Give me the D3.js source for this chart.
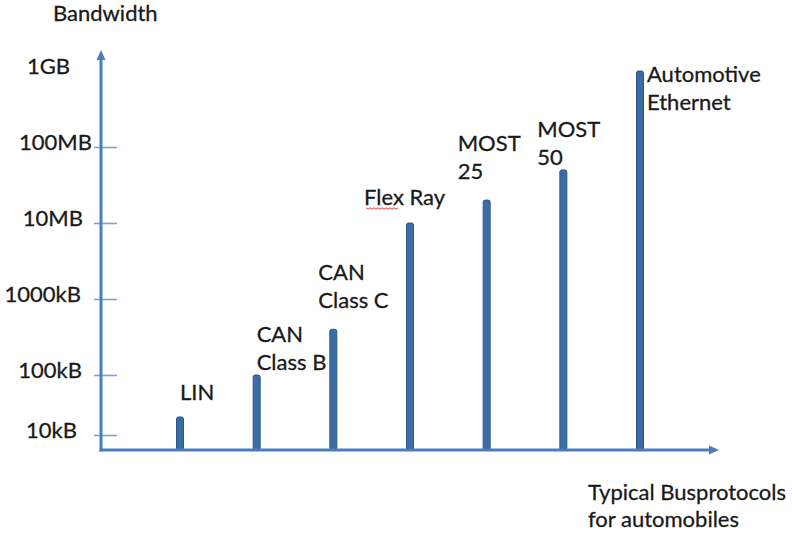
<!DOCTYPE html>
<html>
<head>
<meta charset="utf-8">
<script src="https://cdn.jsdelivr.net/npm/d3@7"></script>
<style>
  html, body { margin: 0; padding: 0; background: #fff; }
  svg { display: block; }
  text { font-family: Lato, "Open Sans", sans-serif; fill: #1a1a1a; stroke: #1a1a1a; stroke-width: 0.3px; }
</style>
</head>
<body>
<svg id="chart" width="792" height="534"></svg>
<script>
// Bus protocols and their bandwidth (bytes per second)
const protocols = ["LIN", "CAN Class B", "CAN Class C", "Flex Ray", "MOST 25", "MOST 50", "Automotive Ethernet"];
const labelLines = [["LIN"], ["CAN", "Class B"], ["CAN", "Class C"], ["Flex Ray"], ["MOST", "25"], ["MOST", "50"], ["Automotive", "Ethernet"]];
const bandwidth = [20e3, 100e3, 400e3, 10e6, 20e6, 50e6, 1e9];

// Y axis tick values and their labels
const tickValues = [1e4, 1e5, 1e6, 1e7, 1e8, 1e9];
const tickLabels = ["10kB", "100kB", "1000kB", "10MB", "100MB", "1GB"];

// ---- layout ----
const W = 792, H = 534;
const axisX = 101, axisY = 450;
const yArrowTip = 50, xArrowTip = 719;
const yTopTick = 71, decade = 76, firstGap = 60;
const blue = "#4a7ebb";
const barFill = "#3b6ca4", barEdge = "#2c5888";
const fontSize = 22, lineHeight = 28;
// right edge of each tick label, measured from the axis line
const tickLabelEnd = [-24, -19, -20, -18, -9, -31];
// per-label placement relative to the bar: [dx from bar centre, baseline of last line relative to bar top]
const labelPlace = [[0, -17], [0, -5], [-15, -21], [-46, -18], [-29, -21], [-26, -5], [7, 39]];

const svg = d3.select("#chart");

// piecewise log scale: the lowest decade is drawn compressed
const yRange = [yTopTick + 4 * decade + firstGap];
for (let i = 1; i < tickValues.length; i++) yRange.push(yTopTick + (tickValues.length - 1 - i) * decade);
const y = d3.scaleLog().domain(tickValues).range(yRange);

const x = d3.scalePoint().domain(protocols).range([180, 640]);

// bars
svg.append("g").selectAll("rect")
  .data(protocols)
  .join("rect")
  .attr("x", d => x(d) - 3.5)
  .attr("width", 7)
  .attr("y", (d, i) => y(bandwidth[i]))
  .attr("height", (d, i) => axisY - y(bandwidth[i]))
  .attr("rx", 2)
  .attr("fill", barFill)
  .attr("stroke", barEdge)
  .attr("stroke-width", 1);

// y axis ticks and labels
const yAxis = d3.axisLeft(y)
  .tickValues(tickValues)
  .tickFormat((d, i) => tickLabels[i])
  .tickSize(7);
const gy = svg.append("g").attr("transform", `translate(${axisX},0)`).call(yAxis);
gy.select(".domain").remove();
gy.selectAll(".tick line")
  .attr("x1", -7).attr("x2", 16)
  .attr("stroke", "#7aa3d4").attr("stroke-width", 1.6)
  .attr("display", d => d === 1e9 ? "none" : null);
gy.selectAll(".tick text")
  .attr("x", (d, i) => tickLabelEnd[i])
  .attr("font-size", fontSize)
  .attr("font-family", "Lato, sans-serif")
  .attr("fill", "#1a1a1a")
  .attr("dy", "0.1em");

// axes with arrowheads
svg.append("line")
  .attr("x1", axisX).attr("y1", axisY + 1.5).attr("x2", axisX).attr("y2", yArrowTip + 8)
  .attr("stroke", blue).attr("stroke-width", 3);
svg.append("path")
  .attr("d", `M${axisX},${yArrowTip} L${axisX - 4.5},${yArrowTip + 10} L${axisX + 4.5},${yArrowTip + 10} Z`)
  .attr("fill", blue);
svg.append("line")
  .attr("x1", axisX - 1.5).attr("y1", axisY).attr("x2", xArrowTip - 8).attr("y2", axisY)
  .attr("stroke", blue).attr("stroke-width", 3);
svg.append("path")
  .attr("d", `M${xArrowTip},${axisY} L${xArrowTip - 10},${axisY - 4.5} L${xArrowTip - 10},${axisY + 4.5} Z`)
  .attr("fill", blue);

// bar labels
const labels = svg.append("g").attr("font-size", fontSize);
protocols.forEach((p, i) => {
  const lines = labelLines[i];
  const [dx, dyLast] = labelPlace[i];
  const x0 = x(p) + dx;
  const lastBase = y(bandwidth[i]) + dyLast;
  const t = labels.append("text").attr("x", x0);
  lines.forEach((ln, j) => {
    t.append("tspan")
      .attr("x", x0)
      .attr("y", lastBase - (lines.length - 1 - j) * lineHeight)
      .text(ln);
  });
  // spell-check squiggle under "Flex"
  if (p === "Flex Ray") {
    const base = lastBase + 3;
    const wave = d3.range(0, 34, 2).map((k, n) => [x0 + 2 + k, base + (n % 2 ? 1.2 : -0.2)]);
    labels.append("path")
      .attr("d", d3.line()(wave))
      .attr("fill", "none").attr("stroke", "#e04040").attr("stroke-width", 1);
  }
});

// axis titles
svg.append("text").attr("x", 53).attr("y", 21).attr("font-size", fontSize).text("Bandwidth");
const xt = svg.append("text").attr("font-size", fontSize);
xt.append("tspan").attr("x", 588).attr("y", 500).text("Typical Busprotocols");
xt.append("tspan").attr("x", 588).attr("y", 527).text("for automobiles");
</script>
</body>
</html>
